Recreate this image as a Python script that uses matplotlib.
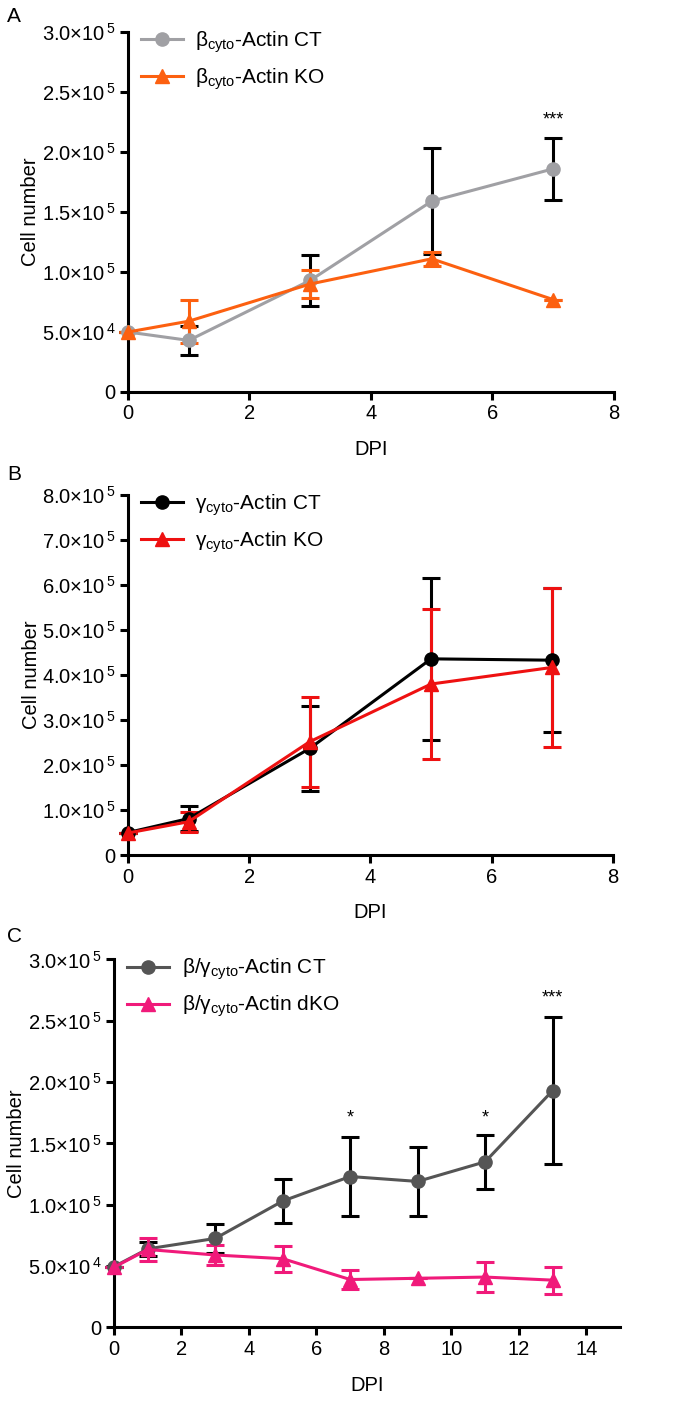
import matplotlib
matplotlib.use('Agg')
import matplotlib.pyplot as plt
import numpy as np

plt.rcParams['font.family'] = ['Liberation Sans', 'DejaVu Sans']
plt.rcParams['mathtext.fontset'] = 'custom'
plt.rcParams['mathtext.rm'] = 'Liberation Sans'
plt.rcParams['mathtext.it'] = 'Liberation Sans'

# panel A: beta-cyto actin
dpi_a = [0, 1, 3, 5, 7]
a_ct = [5.0e4, 4.3e4, 9.3e4, 1.59e5, 1.86e5]
a_ct_err = [0, 1.2e4, 2.1e4, 4.4e4, 2.6e4]
a_ko = [5.0e4, 5.9e4, 9.0e4, 1.11e5, 7.7e4]
a_ko_err = [0, 1.8e4, 1.2e4, 0.6e4, 0]

# panel B: gamma-cyto actin
dpi_b = [0, 1, 3, 5, 7]
b_ct = [5.0e4, 8.1e4, 2.37e5, 4.36e5, 4.33e5]
b_ct_err = [0, 2.7e4, 9.4e4, 1.8e5, 1.6e5]
b_ko = [4.9e4, 7.4e4, 2.52e5, 3.80e5, 4.17e5]
b_ko_err = [0, 2.2e4, 1.0e5, 1.67e5, 1.77e5]

# panel C: beta/gamma double
dpi_c = [0, 1, 3, 5, 7, 9, 11, 13]
c_ct = [4.95e4, 6.4e4, 7.25e4, 1.03e5, 1.23e5, 1.19e5, 1.35e5, 1.93e5]
c_ct_err = [0, 0.6e4, 1.2e4, 1.8e4, 3.2e4, 2.8e4, 2.2e4, 6.0e4]
c_ko = [4.9e4, 6.35e4, 5.9e4, 5.6e4, 3.9e4, 4.0e4, 4.1e4, 3.85e4]
c_ko_err = [0, 0.9e4, 0.8e4, 1.05e4, 0.8e4, 0, 1.25e4, 1.1e4]

ylab_a = ['0', r'$\mathregular{5.0{\times}10^{\,4}}$', r'$\mathregular{1.0{\times}10^{\,5}}$',
          r'$\mathregular{1.5{\times}10^{\,5}}$', r'$\mathregular{2.0{\times}10^{\,5}}$',
          r'$\mathregular{2.5{\times}10^{\,5}}$', r'$\mathregular{3.0{\times}10^{\,5}}$']
ylab_b = ['0'] + [r'$\mathregular{%d.0{\times}10^{\,5}}$' % i for i in range(1, 9)]

fig = plt.figure(figsize=(6.84, 14.04), dpi=100)
FS = 14.5


def style(ax, xmax, xticks, yticks, ylabels, ymax):
    ax.set_xlim(0, xmax)
    ax.set_ylim(0, ymax)
    ax.set_xticks(xticks)
    ax.set_yticks(yticks)
    ax.set_yticklabels(ylabels)
    for s in ['top', 'right']:
        ax.spines[s].set_visible(False)
    for s in ['left', 'bottom']:
        ax.spines[s].set_linewidth(2.2)
    ax.tick_params(width=2.2, length=6, labelsize=FS, pad=3)
    ax.set_xlabel('DPI', fontsize=FS, labelpad=12)
    ax.set_ylabel('Cell number', fontsize=FS, labelpad=1)
    for sp in ax.spines.values():
        sp.set_clip_on(False)


def series(ax, x, y, e, color, ecolor, marker):
    c = ax.errorbar(x, y, yerr=e, color=color, ecolor=ecolor, marker=marker,
                    markersize=9.5, lw=2.2, elinewidth=2.2, capsize=6.5, capthick=2.2,
                    clip_on=False, zorder=3)
    return c.lines[0]


def legend(ax, handles, labels):
    ax.legend(handles, labels, loc='upper left', bbox_to_anchor=(0.01, 1.03), frameon=False,
              fontsize=15, handlelength=2.0, labelspacing=0.55, borderaxespad=0,
              handletextpad=0.6)


ticks_a = [0, 5e4, 1e5, 1.5e5, 2e5, 2.5e5, 3e5]

axA = fig.add_axes([0.1871, 0.7208, 0.7105, 0.2564])
h1 = series(axA, dpi_a, a_ct, a_ct_err, '#a0a0a4', 'black', 'o')
h2 = series(axA, dpi_a, a_ko, a_ko_err, '#fc6010', '#fc6010', '^')
style(axA, 8, [0, 2, 4, 6, 8], ticks_a, ylab_a, 3e5)
axA.text(7, 2.2e5, '***', ha='center', va='bottom', fontsize=13)
legend(axA, [h1, h2], [r'β$_{\mathregular{cyto}}$-Actin CT', r'β$_{\mathregular{cyto}}$-Actin KO'])

axB = fig.add_axes([0.1871, 0.391, 0.709, 0.2564])
h1 = series(axB, dpi_b, b_ct, b_ct_err, 'black', 'black', 'o')
h2 = series(axB, dpi_b, b_ko, b_ko_err, '#ee1111', '#ee1111', '^')
style(axB, 8, [0, 2, 4, 6, 8], [i * 1e5 for i in range(9)], ylab_b, 8e5)
legend(axB, [h1, h2], [r'γ$_{\mathregular{cyto}}$-Actin CT', r'γ$_{\mathregular{cyto}}$-Actin KO'])

axC = fig.add_axes([0.1667, 0.0546, 0.7398, 0.262])
h1 = series(axC, dpi_c, c_ct, c_ct_err, '#555555', 'black', 'o')
h2 = series(axC, dpi_c, c_ko, c_ko_err, '#f01a7a', '#f01a7a', '^')
style(axC, 15, [0, 2, 4, 6, 8, 10, 12, 14], ticks_a, ylab_a, 3e5)
axC.text(7, 1.64e5, '*', ha='center', va='bottom', fontsize=13)
axC.text(11, 1.64e5, '*', ha='center', va='bottom', fontsize=13)
axC.text(13, 2.62e5, '***', ha='center', va='bottom', fontsize=13)
legend(axC, [h1, h2], [r'β/γ$_{\mathregular{cyto}}$-Actin CT', r'β/γ$_{\mathregular{cyto}}$-Actin dKO'])

fig.text(0.01, 0.995, 'A', fontsize=15, va='top')
fig.text(0.01, 0.669, 'B', fontsize=15, va='top')
fig.text(0.01, 0.340, 'C', fontsize=15, va='top')

fig.savefig('out.png', dpi=100)
